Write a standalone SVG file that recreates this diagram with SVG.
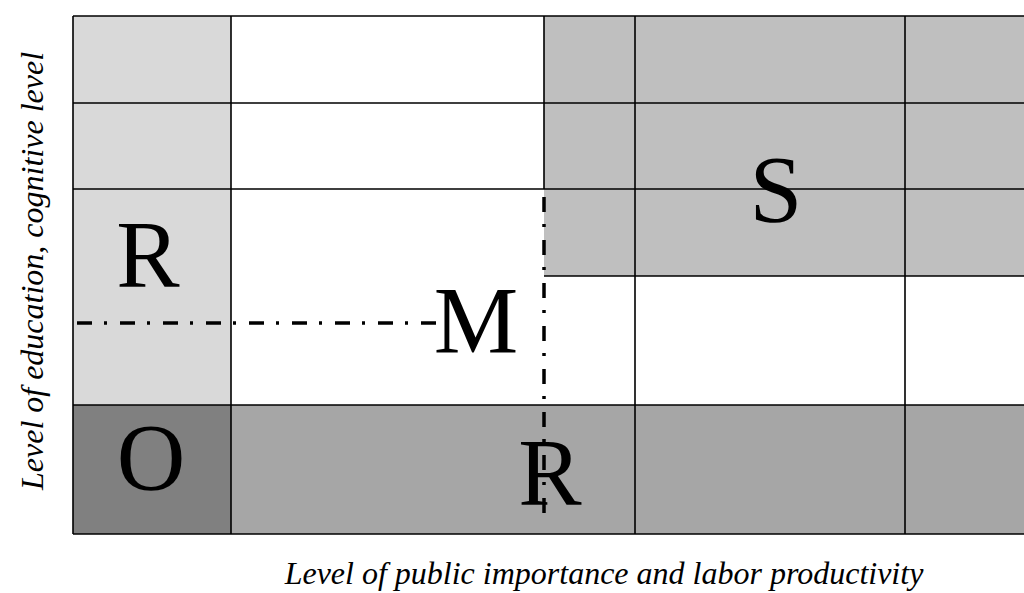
<svg xmlns="http://www.w3.org/2000/svg" width="1024" height="593" viewBox="0 0 1024 593">
<style>
.grid{stroke:#000;stroke-width:1.6;fill:none}
.dd{stroke:#000;stroke-width:3.5;fill:none;stroke-dasharray:15 12 3 13}
.big{font-family:"Liberation Serif","Times New Roman",serif;font-size:95px;fill:#000;text-anchor:middle}
.axis{font-family:"Liberation Serif","Times New Roman",serif;font-size:32px;font-style:italic;fill:#000;text-anchor:middle}
</style>
<rect width="1024" height="593" fill="#fff"/>
<g id="fills">
<rect x="73" y="16" width="158" height="389" fill="#d9d9d9"/>
<rect x="73" y="405" width="158" height="129" fill="#808080"/>
<rect x="231" y="405" width="793" height="129" fill="#a6a6a6"/>
<rect x="544" y="16" width="480" height="260" fill="#bfbfbf"/>
</g>
<g id="grid" class="grid">
<path d="M73 16H1024M73 103H1024M73 189H1024M544 276H1024M73 405H1024M73 534H1024"/>
<path d="M73 16V534M231 16V534M544 16V189M635 16V534M905 16V534"/>
</g>
<g id="connectors">
<path class="dd" d="M77 323H441"/>
<path class="dd" d="M544 197V518"/>
</g>
<g id="labels">
<text id="R-top" class="big" x="148" y="287">R</text>
<text id="M" class="big" x="476" y="353">M</text>
<text id="S" class="big" x="776" y="222">S</text>
<text id="O" class="big" x="151" y="490">O</text>
<text id="R-bottom" class="big" x="550" y="505">R</text>
</g>
<text class="axis" x="604" y="584">Level of public importance and labor productivity</text>
<text class="axis" transform="translate(43 271) rotate(-90)">Level of education, cognitive level</text>
</svg>
